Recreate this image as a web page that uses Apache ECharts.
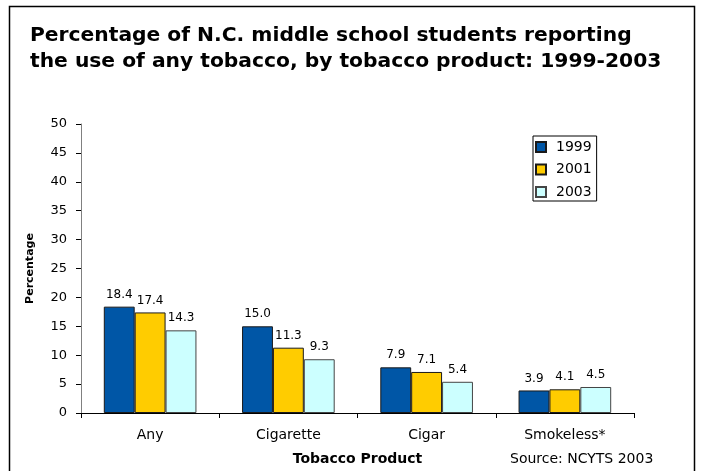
<!DOCTYPE html>
<html><head><meta charset="utf-8">
<script src="https://cdn.jsdelivr.net/npm/echarts@6/dist/echarts.min.js"></script>
<style>html,body{margin:0;padding:0;background:#fff}#c{width:702px;height:471px}</style>
</head><body><div id="c"></div>
<script>
const categories = ['Any', 'Cigarette', 'Cigar', 'Smokeless*'];
const years = ['1999', '2001', '2003'];
const v1999 = [18.4, 15.0, 7.9, 3.9];
const v2001 = [17.4, 11.3, 7.1, 4.1];
const v2003 = [14.3, 9.3, 5.4, 4.5];
const colors = ['#0056A6', '#FFCC00', '#CCFFFF'];
const borders = ['#1a1a1a', '#1a1a1a', '#444'];
const font = '"DejaVu Sans", Verdana, sans-serif';
const chart = echarts.init(document.getElementById('c'));
const mk = (name, data, i) => ({
  name, type: 'bar', data, barGap: '0%', barCategoryGap: '33%',
  itemStyle: { color: colors[i], borderColor: borders[i], borderWidth: 1 },
  label: { show: true, position: 'top', distance: 6, fontFamily: font, fontSize: 12, color: '#000',
    formatter: p => p.value.toFixed(1) },
  emphasis: { disabled: true }
});
chart.setOption({
  animation: false,
  textStyle: { fontFamily: font },
  graphic: [
    { type: 'rect', shape: { x: 9.5, y: 6.5, width: 685, height: 470 }, style: { fill: 'none', stroke: '#000', lineWidth: 1.5 }, z: 100 },
    { type: 'text', left: 30, top: 23, style: { text: 'Percentage of N.C. middle school students reporting\nthe use of any tobacco, by tobacco product: 1999-2003', font: 'bold 20.25px ' + font, fill: '#000', lineHeight: 26 } },
    { type: 'text', left: 510, top: 452, style: { text: 'Source: NCYTS 2003', font: '14px ' + font, fill: '#000' } }
  ],
  legend: {
    data: years, orient: 'vertical', left: 533, top: 136, itemWidth: 10, itemHeight: 10, itemGap: 8.5,
    borderColor: '#000', borderWidth: 1, padding: [4, 5, 2, 2],
    textStyle: { fontFamily: font, fontSize: 14, color: '#000', padding: [0, 0, 0, 5] },
    icon: 'rect', selectedMode: false
  },
  grid: { left: 81, right: 68, top: 124, bottom: 57, containLabel: false },
  xAxis: {
    type: 'category', data: categories,
    name: 'Tobacco Product', nameLocation: 'middle', nameGap: 39,
    nameTextStyle: { fontFamily: font, fontWeight: 'bold', fontSize: 14, color: '#000' },
    axisLine: { lineStyle: { color: '#000', width: 1 } },
    axisTick: { show: true, length: 5, lineStyle: { color: '#000' } },
    axisLabel: { fontFamily: font, fontSize: 14, color: '#000', margin: 15 }
  },
  yAxis: {
    type: 'value', min: 0, max: 50, interval: 5,
    name: 'Percentage', nameLocation: 'middle', nameGap: 45, nameRotate: 90,
    nameTextStyle: { fontFamily: font, fontWeight: 'bold', fontSize: 11, color: '#000' },
    axisLine: { show: true, lineStyle: { color: '#808080', width: 1 } },
    axisTick: { show: true, length: 5, lineStyle: { color: '#000' } },
    axisLabel: { fontFamily: font, fontSize: 13, color: '#000', margin: 14 },
    splitLine: { show: false }
  },
  series: [mk(years[0], v1999, 0), mk(years[1], v2001, 1), mk(years[2], v2003, 2)]
});
</script></body></html>
